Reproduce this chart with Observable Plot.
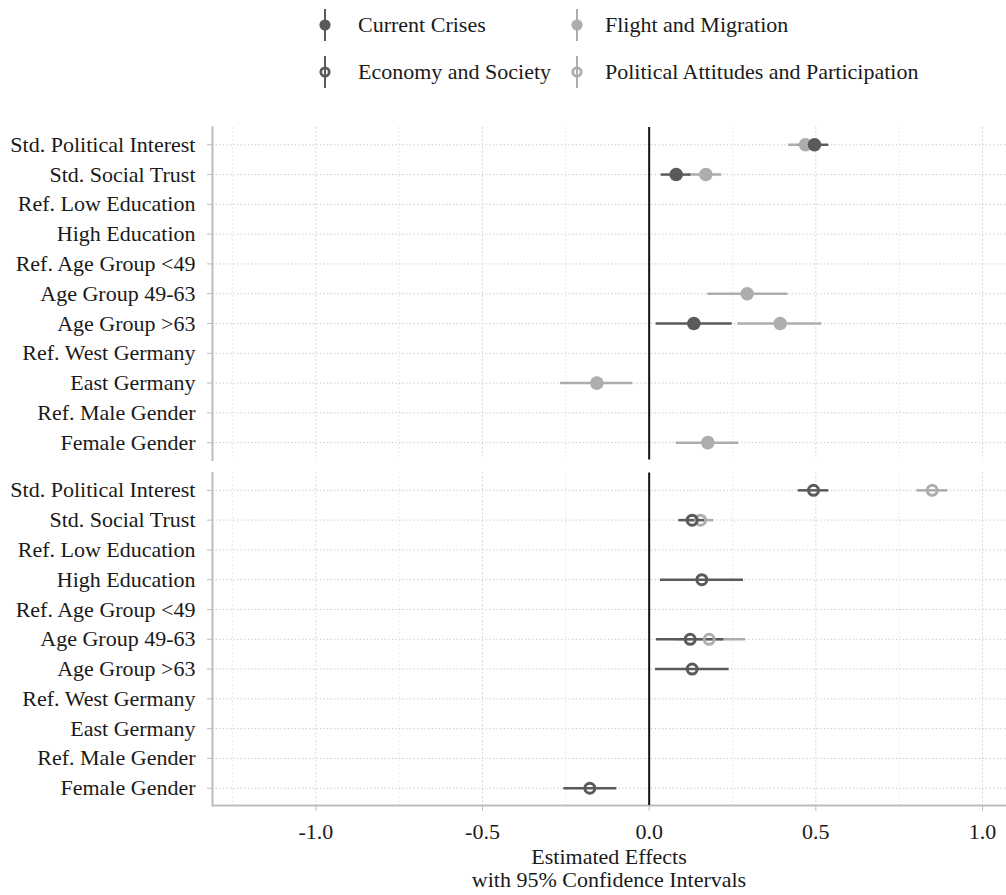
<!DOCTYPE html>
<html>
<head>
<meta charset="utf-8">
<script src="https://cdn.jsdelivr.net/npm/d3@7"></script>
<script src="https://cdn.jsdelivr.net/npm/@observablehq/plot@0.6"></script>
<style>
  body { margin: 0; background: #fff; font-family: "Liberation Serif", "Times New Roman", serif; color: #1a1a1a; }
  #wrap { position: relative; width: 1006px; height: 895px; overflow: hidden; background: #fff; }
  #legend { height: 100px; }
  #caption { padding-left: 212px; width: 794px; text-align: center; font-size: 22px; line-height: 23px; }
</style>
</head>
<body>
<div id="wrap">
  <div id="legend"></div>
  <div id="chart"></div>
  <div id="caption"></div>
</div>
<script>
// ---------- DATA ----------
const categories = [
  "Std. Political Interest", "Std. Social Trust", "Ref. Low Education", "High Education",
  "Ref. Age Group <49", "Age Group 49-63", "Age Group >63", "Ref. West Germany",
  "East Germany", "Ref. Male Gender", "Female Gender"
];
const panels = ["top", "bottom"];
const seriesNames = ["Current Crises", "Flight and Migration", "Economy and Society", "Political Attitudes and Participation"];

// top panel (filled)
const crisesEst  = [0.496, 0.081, null, null, null, null, 0.134, null, null, null, null];
const crisesLow  = [0.450, 0.036, null, null, null, null, 0.021, null, null, null, null];
const crisesHigh = [0.539, 0.125, null, null, null, null, 0.249, null, null, null, null];

const flightEst  = [0.469, 0.170, null, null, null, 0.294, 0.393, null, -0.157, null, 0.176];
const flightLow  = [0.418, 0.120, null, null, null, 0.176, 0.266, null, -0.266, null, 0.081];
const flightHigh = [0.520, 0.218, null, null, null, 0.416, 0.518, null, -0.049, null, 0.269];

// bottom panel (hollow)
const economyEst  = [0.493, 0.129, null, 0.158, null, 0.123, 0.129, null, null, null, -0.178];
const economyLow  = [0.447, 0.089, null, 0.034, null, 0.022, 0.019, null, null, null, -0.256];
const economyHigh = [0.539, 0.170, null, 0.283, null, 0.224, 0.240, null, null, null, -0.097];

const politicalEst  = [0.849, 0.154, null, null, null, 0.180, null, null, null, null, null];
const politicalLow  = [0.803, 0.115, null, null, null, 0.075, null, null, null, null, null];
const politicalHigh = [0.896, 0.194, null, null, null, 0.289, null, null, null, null, null];

const xTicks = [-1, -0.5, 0, 0.5, 1];
const xMajorGrid = [-1, -0.5, 0.5, 1];
const xMinorGrid = [-1.25, -0.75, -0.25, 0.25, 0.75];
const axisTitle = ["Estimated Effects", "with 95% Confidence Intervals"];

// ---------- STYLE ----------
const dark = "#5a5a5a";
const light = "#adadad";
const seriesColors = [dark, light, dark, light];
const seriesHollow = [false, false, true, true];
const seriesPanel = [panels[0], panels[0], panels[1], panels[1]];
const seriesValues = [
  [crisesEst, crisesLow, crisesHigh],
  [flightEst, flightLow, flightHigh],
  [economyEst, economyLow, economyHigh],
  [politicalEst, politicalLow, politicalHigh]
];
const drawOrder = [1, 0, 3, 2];

const rows = drawOrder.flatMap(s => categories.map((c, i) => ({
  panel: seriesPanel[s], category: c, series: seriesNames[s], hollow: seriesHollow[s],
  est: seriesValues[s][0][i], lo: seriesValues[s][1][i], hi: seriesValues[s][2][i]
}))).filter(d => d.est != null);

const font = '"Liberation Serif", "Times New Roman", serif';

// ---------- LEGEND ----------
const leg = d3.select("#legend").append("svg").attr("width", 1006).attr("height", 100)
  .style("font-family", font).style("font-size", "22px");
const legX = [325, 577], legTextX = [358, 605], legY = [25, 72];
seriesNames.forEach((name, i) => {
  const cx = legX[i % 2], cy = legY[Math.floor(i / 2)];
  const g = leg.append("g");
  g.append("line").attr("x1", cx).attr("x2", cx).attr("y1", cy - 16).attr("y2", cy + 16)
    .attr("stroke", seriesColors[i]).attr("stroke-width", 2);
  if (seriesHollow[i]) {
    g.append("circle").attr("cx", cx).attr("cy", cy).attr("r", 4.2)
      .attr("fill", "none").attr("stroke", seriesColors[i]).attr("stroke-width", 2.8);
  } else {
    g.append("circle").attr("cx", cx).attr("cy", cy).attr("r", 5.6).attr("fill", seriesColors[i]);
  }
  g.append("text").attr("x", legTextX[i % 2]).attr("y", cy + 7).attr("fill", "#1a1a1a").text(name);
});

// ---------- CHART ----------
const chart = Plot.plot({
  width: 1006,
  height: 745,
  marginLeft: 212,
  marginRight: 0,
  marginTop: 27,
  marginBottom: 40,
  style: { fontFamily: font, fontSize: "22px", background: "white", color: "#1a1a1a" },
  x: { domain: [-1.31, 1.072] },
  y: { domain: categories, padding: 0.58, round: false },
  fy: { domain: panels, paddingInner: 0.038, paddingOuter: 0, round: false, axis: null, label: null },
  color: { domain: seriesNames, range: seriesColors },
  marks: [
    Plot.ruleX(xMinorGrid, { stroke: "#e2e2e2", strokeDasharray: "1.5,2.5", strokeWidth: 1 }),
    Plot.ruleX(xMajorGrid, { stroke: "#cfcfcf", strokeDasharray: "1.5,2.5", strokeWidth: 1 }),
    Plot.ruleY(categories, { stroke: "#c2c2c2", strokeDasharray: "1.2,2.4", strokeWidth: 1 }),
    Plot.frame({ anchor: "left", stroke: "#bdbdbd", strokeWidth: 2 }),
    Plot.ruleY([{ panel: panels[1], category: categories[categories.length - 1] }],
      { fy: "panel", y: "category", dy: 17.3, stroke: "#bdbdbd", strokeWidth: 2 }),
    Plot.ruleX([0], { stroke: "#111", strokeWidth: 2 }),
    Plot.axisY({ tickSize: 5, tickPadding: 12, stroke: "#bdbdbd", fill: "#1a1a1a", fontSize: 22, label: null }),
    Plot.axisX({ ticks: xTicks, tickFormat: d => d.toFixed(1), tickSize: 6, tickPadding: 12,
      stroke: "#bdbdbd", fill: "#1a1a1a", fontSize: 22, label: null }),
    Plot.ruleY(rows, { fy: "panel", y: "category", x1: "lo", x2: "hi", stroke: "series", strokeWidth: 2.5 }),
    Plot.dot(rows.filter(d => !d.hollow), { fy: "panel", x: "est", y: "category", fill: "series", r: 6.8 }),
    Plot.dot(rows.filter(d => d.hollow), { fy: "panel", x: "est", y: "category", stroke: "series",
      fill: "none", r: 5, strokeWidth: 3 })
  ]
});
document.getElementById("chart").appendChild(chart);

document.getElementById("caption").innerHTML = axisTitle.map(t => `<div>${t}</div>`).join("");
</script>
</body>
</html>
